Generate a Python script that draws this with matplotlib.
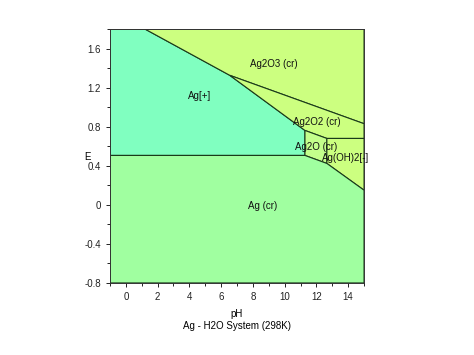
import matplotlib
matplotlib.use("Agg")
import matplotlib.pyplot as plt
from matplotlib.patches import Polygon
from matplotlib.ticker import MultipleLocator

plt.rcParams["font.family"] = ["Liberation Sans", "DejaVu Sans"]

# Region names
species = ["Ag[+]", "Ag2O3 (cr)", "Ag2O2 (cr)", "Ag2O (cr)", "Ag(OH)2[-]", "Ag (cr)"]

# Region boundary polygons (pH, E)
ag_plus_pH = [-1, 1.21, 6.54, 11.28, 11.28, -1]
ag_plus_E = [1.8, 1.8, 1.327, 0.762, 0.506, 0.506]
ag2o3_pH = [1.21, 15, 15, 6.54]
ag2o3_E = [1.8, 1.8, 0.831, 1.327]
ag2o2_pH = [6.54, 15, 15, 12.66, 11.28]
ag2o2_E = [1.327, 0.831, 0.68, 0.68, 0.762]
ag2o_pH = [11.28, 12.66, 12.66, 11.28]
ag2o_E = [0.762, 0.68, 0.424, 0.506]
agoh2_pH = [12.66, 15, 15, 12.66]
agoh2_E = [0.68, 0.68, 0.150, 0.424]
ag_pH = [-1, 11.28, 12.66, 15, 15, -1]
ag_E = [0.506, 0.506, 0.424, 0.150, -0.8, -0.8]

# Label positions
label_pH = [4.62, 9.32, 12.01, 11.97, 13.81, 8.59]
label_E = [1.115, 1.44, 0.851, 0.591, 0.479, -0.014]

regions = [
    (ag_plus_pH, ag_plus_E, "#80FFC0"),
    (ag2o3_pH, ag2o3_E, "#CCFF80"),
    (ag2o2_pH, ag2o2_E, "#CCFF80"),
    (ag2o_pH, ag2o_E, "#C4FF8C"),
    (agoh2_pH, agoh2_E, "#CCFF80"),
    (ag_pH, ag_E, "#A0FFA0"),
]

FS = 7

fig = plt.figure(figsize=(4.74, 3.55), dpi=100)
ax = fig.add_axes([0.232, 0.203, 0.536, 0.715])

for xs, ys, col in regions:
    poly = Polygon(list(zip(xs, ys)), closed=True, facecolor=col,
                   edgecolor="#1a3a1a", linewidth=0.8)
    ax.add_patch(poly)

for name, x, y in zip(species, label_pH, label_E):
    ax.text(x, y, name, ha="center", va="center", fontsize=FS, color="#111111")

ax.set_xlim(-1, 15)
ax.set_ylim(-0.8, 1.8)
ax.xaxis.set_minor_locator(MultipleLocator(1))
ax.yaxis.set_minor_locator(MultipleLocator(0.2))
ax.set_xticks([0, 2, 4, 6, 8, 10, 12, 14])
ax.set_yticks([-0.8, -0.4, 0, 0.4, 0.8, 1.2, 1.6])
ax.set_yticklabels(["-0.8", "-0.4", "0", "0.4", "0.8", "1.2", "1.6"])
ax.tick_params(labelsize=FS, length=3, width=0.7, colors="#222222")
ax.tick_params(which="minor", length=2, width=0.6)
for s in ax.spines.values():
    s.set_linewidth(0.7)
    s.set_color("#333333")

ax.set_xlabel("pH", fontsize=FS, labelpad=5)
ax.text(-0.09, 0.495, "E", transform=ax.get_yaxis_transform(),
        ha="center", va="center", fontsize=FS)
fig.text(0.5 * (0.232 + 0.768), 1 - 326 / 355, "Ag - H2O System (298K)",
         ha="center", va="center", fontsize=FS)

fig.savefig("out.png", dpi=100)
